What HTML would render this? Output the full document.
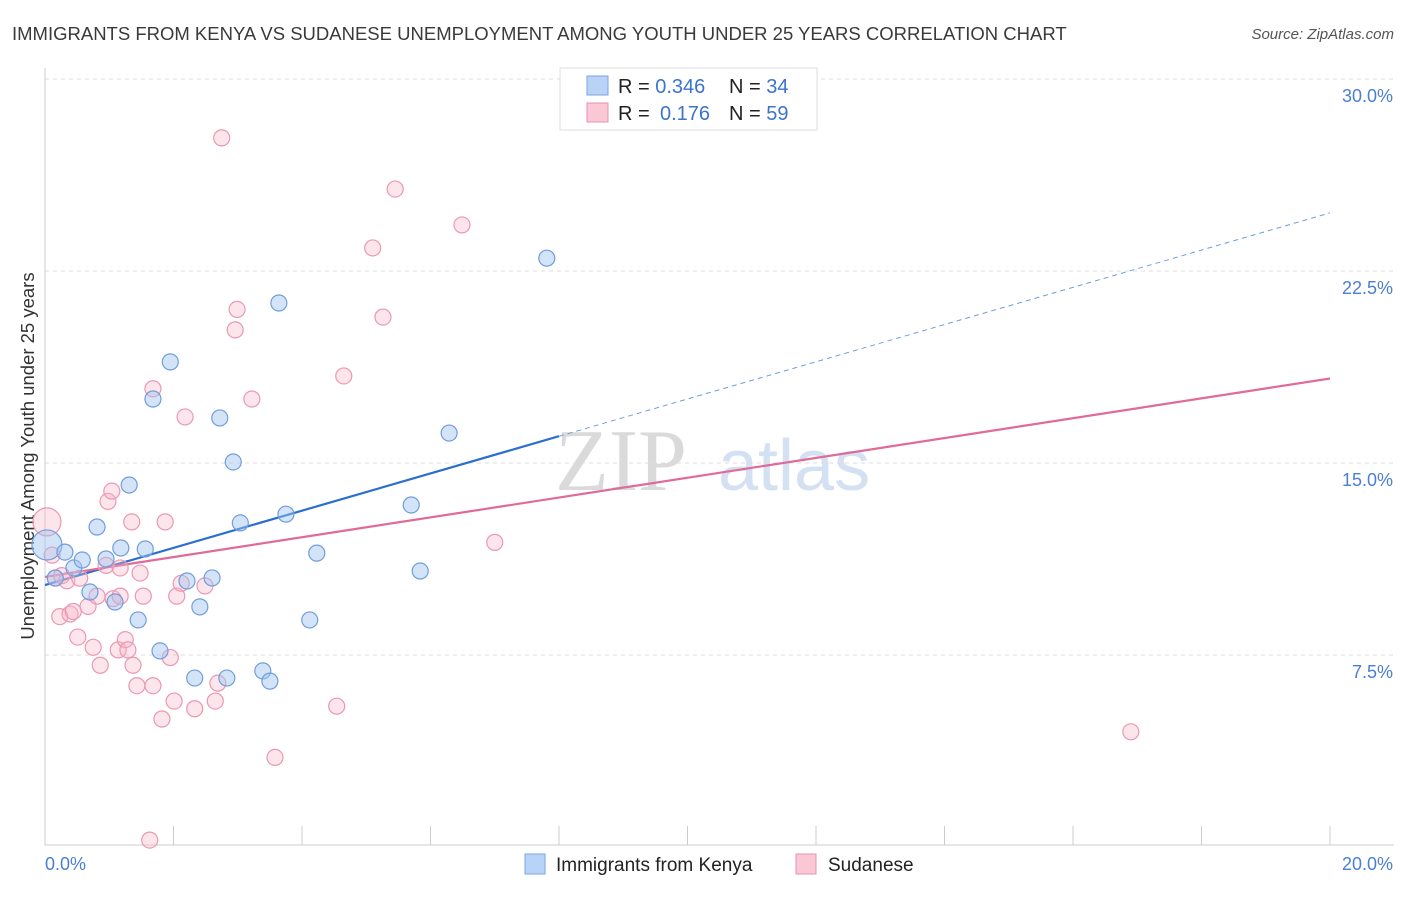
<!DOCTYPE html>
<html><head><meta charset="utf-8"><style>
body{margin:0;background:#fff;font-family:"Liberation Sans",sans-serif;}
</style></head><body>
<svg id="chart" width="1406" height="892" xmlns="http://www.w3.org/2000/svg">
<text x="12" y="40" font-size="18.5" fill="#3a3a3a">IMMIGRANTS FROM KENYA VS SUDANESE UNEMPLOYMENT AMONG YOUTH UNDER 25 YEARS CORRELATION CHART</text>
<text x="1394" y="39" font-size="15" fill="#555" font-style="italic" text-anchor="end">Source: ZipAtlas.com</text>
<text x="34" y="456" font-size="18.5" fill="#333" text-anchor="middle" transform="rotate(-90 34 456)">Unemployment Among Youth under 25 years</text>
<text x="555" y="490" font-size="88" fill="#dadada" font-family="Liberation Serif,serif">ZIP</text>
<text x="718" y="490" font-size="72" fill="#d3e1f3">atlas</text>
<g id="grid"></g><g id="axes"></g><g id="lines"></g><g id="pts"></g>
<g>
<rect x="560" y="68" width="257" height="62" fill="#fff" stroke="#ddd"/>
<rect x="587" y="76" width="21" height="19" fill="#b8d3f5" stroke="#7aa6e0"/>
<rect x="587" y="103" width="21" height="19" fill="#fbc8d7" stroke="#e890ad"/>
<text x="618" y="93" font-size="20" fill="#222">R = <tspan fill="#3b74cc">0.346</tspan><tspan x="729">N = </tspan><tspan fill="#3b74cc">34</tspan></text>
<text x="618" y="120" font-size="20" fill="#222">R = <tspan fill="#3b74cc" x="660">0.176</tspan><tspan x="729">N = </tspan><tspan fill="#3b74cc">59</tspan></text>
</g>
<g>
<rect x="525" y="854" width="20" height="20" fill="#b8d3f5" stroke="#7aa6e0"/>
<text x="556" y="871" font-size="19" fill="#222">Immigrants from Kenya</text>
<rect x="796" y="854" width="20" height="20" fill="#fbc8d7" stroke="#e890ad"/>
<text x="828" y="871" font-size="19" fill="#222">Sudanese</text>
</g>
</svg>
<script>
const yTicks=[7.5,15,22.5,30];
const yTickLabels=["7.5%","15.0%","22.5%","30.0%"];
const kenyaX=[0.03,0.16,0.31,0.45,0.58,0.7,0.81,0.95,1.09,1.18,1.31,1.45,1.56,1.68,1.79,1.95,2.21,2.33,2.41,2.6,2.72,2.83,2.93,3.04,3.39,3.5,3.64,3.75,4.12,4.23,5.7,5.84,6.29,7.81];
const kenyaY=[11.8,10.51,11.52,10.9,11.21,9.96,12.5,11.25,9.57,11.68,14.14,8.87,11.64,17.5,7.66,18.95,10.39,6.6,9.38,10.51,16.76,6.6,15.04,12.66,6.88,6.48,21.25,13.0,8.87,11.48,13.36,10.78,16.17,23.0];
const sudanX=[0.03,0.11,0.16,0.26,0.34,0.23,0.39,0.44,0.51,0.54,0.67,0.75,0.81,0.86,0.98,1.04,0.95,1.14,1.17,1.25,1.29,1.35,1.37,1.43,1.48,1.53,1.63,1.68,1.68,1.82,1.87,1.95,2.01,2.05,2.12,2.18,2.33,2.49,2.65,2.69,2.75,2.96,2.99,3.22,3.58,4.54,4.65,5.1,5.26,5.45,6.49,7.0,16.9,1.06,1.17];
const sudanY=[12.7,11.4,10.5,10.6,10.4,9.0,9.1,9.2,8.2,10.5,9.4,7.8,9.8,7.1,13.5,13.9,11.0,7.7,10.9,8.1,7.7,12.7,7.1,6.3,10.7,9.8,0.27,17.9,6.3,5.0,12.7,7.4,5.7,9.8,10.3,16.8,5.4,10.2,5.7,6.4,27.7,20.2,21.0,17.5,3.5,5.5,18.4,23.4,20.7,25.7,24.3,11.9,4.5,9.7,9.8];
const kenyaTrend=[10.23,0.727];
const sudanTrend=[10.55,0.3875];
const X=v=>45+v*64.25, Y=v=>847-v*25.6;
const NS="http://www.w3.org/2000/svg";
function mk(p,t,a){const e=document.createElementNS(NS,t);for(const k in a)e.setAttribute(k,a[k]);document.getElementById(p).appendChild(e);return e;}
yTicks.forEach((t,i)=>{
 const g=mk('grid','line',{x1:45,x2:1394,y1:Y(t),y2:Y(t),stroke:'#ddd','stroke-dasharray':'4,4'});
 
 
 const l=mk('grid','text',{x:1393,y:Y(t)+23,'font-size':18,fill:'#4a7fd4','text-anchor':'end'});
 l.textContent=yTickLabels[i];
 
 
});
const ax=mk('axes','path',{d:'M45,68V845H1394',stroke:'#ccc',fill:'none'});


for(let i=1;i<=10;i++){const t=mk('axes','line',{x1:45+i*128.5,x2:45+i*128.5,y1:826,y2:845,stroke:'#ccc'});
 
 }
const x0=mk('axes','text',{x:45,y:870,'font-size':18,fill:'#4a7fd4'});x0.textContent='0.0%';


const x1=mk('axes','text',{x:1393,y:870,'font-size':18,fill:'#4a7fd4','text-anchor':'end'});x1.textContent='20.0%';


function pts(xs,ys,fill,stroke,name,big){xs.forEach((x,i)=>{const c=mk('pts','circle',{cx:X(x),cy:Y(ys[i]),r:i==0?big:8,fill,stroke,'stroke-width':1.2});
 
 });}
pts(sudanX,sudanY,'rgba(248,180,200,0.35)','#ea98b3','sudanese-point',14);
pts(kenyaX,kenyaY,'rgba(160,196,240,0.45)','#6f9edb','kenya-point',15);
const kb=mk('lines','line',{x1:X(0),y1:Y(kenyaTrend[0]),x2:X(8),y2:Y(kenyaTrend[0]+8*kenyaTrend[1]),stroke:'#2a6fd0','stroke-width':2.2});


const kd=mk('lines','line',{x1:X(8),y1:Y(kenyaTrend[0]+8*kenyaTrend[1]),x2:X(20),y2:Y(kenyaTrend[0]+20*kenyaTrend[1]),stroke:'#6f9edb','stroke-width':1,'stroke-dasharray':'5,4'});


const sl=mk('lines','line',{x1:X(0),y1:Y(sudanTrend[0]),x2:X(20),y2:Y(sudanTrend[0]+20*sudanTrend[1]),stroke:'#e06a98','stroke-width':2.2});


</script>
</body></html>
